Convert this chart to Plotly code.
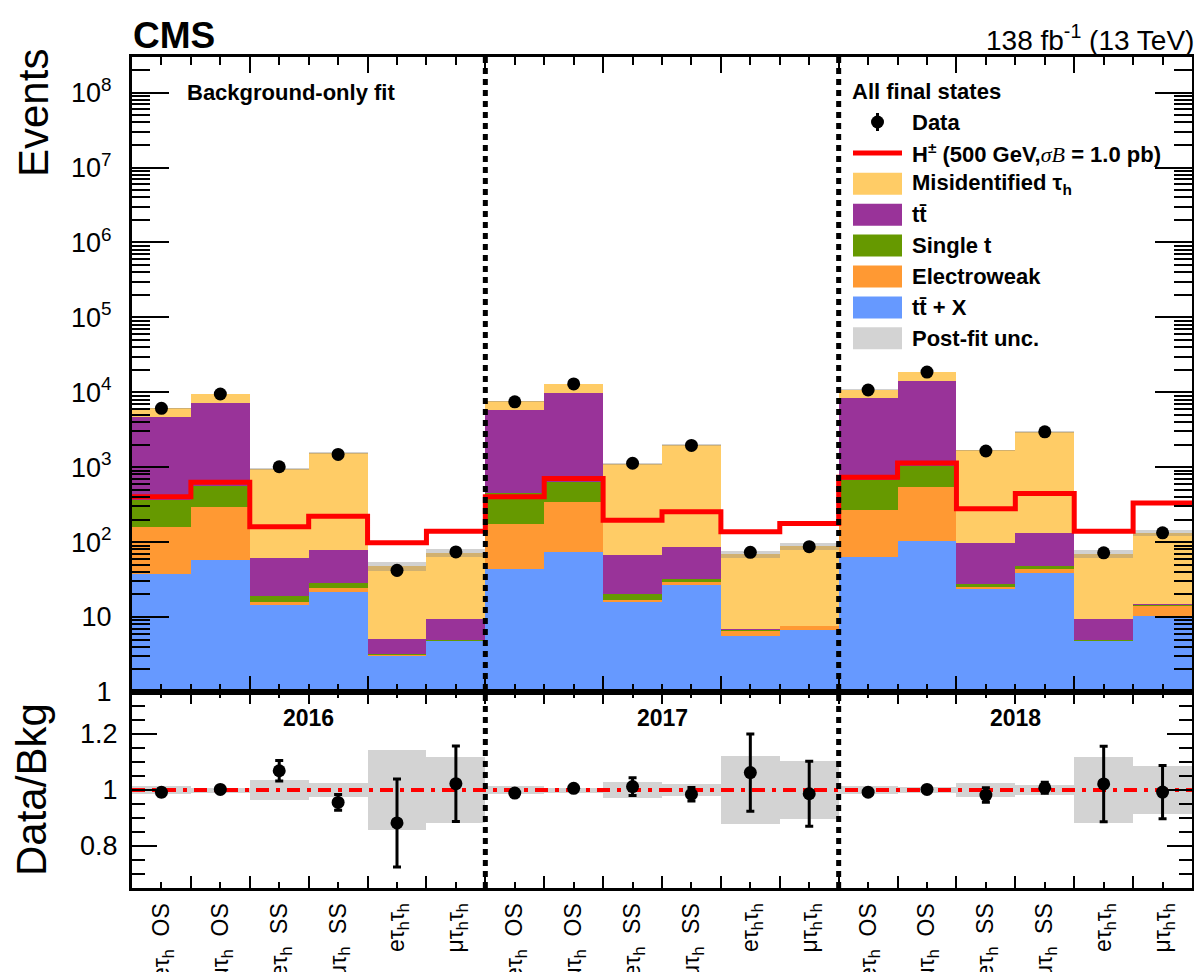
import numpy as np
import plotly.graph_objects as go

# ---------------------------------------------------------------- data
years = ["2016", "2017", "2018"]
GAP = "\u00a0\u00a0"
channels = [f"eτ<sub>h</sub>{GAP}OS", f"μτ<sub>h</sub>{GAP}OS",
            f"eτ<sub>h</sub>{GAP}SS", f"μτ<sub>h</sub>{GAP}SS",
            "eτ<sub>h</sub>τ<sub>h</sub>", "μτ<sub>h</sub>τ<sub>h</sub>"]
categories = channels * len(years)

# post-fit background yields per category (events)
ttx = [37.6, 57.4, 14.4, 21.7, 3.09, 4.8,
       44.2, 73.4, 16.1, 26.8, 5.6, 6.73,
       63.8, 105, 24.0, 39.2, 4.8, 10.35]
electroweak = [121, 234.6, 1.5, 3.0, 0.05, 0.08,
               131.3, 267.6, 0.8, 2.6, 0.93, 0.87,
               200.8, 435, 1.5, 4.2, 0.05, 3.75]
single_t = [205, 277, 3.2, 3.5, 0.03, 0.05,
            279.5, 302, 3.1, 2.5, 0.34, 0.04,
            404.4, 487, 2.5, 4.7, 0.03, 0.75]
ttbar = [4306, 6621, 42.7, 51.5, 1.99, 4.45,
         5396, 9007, 46.6, 55.1, 0.05, 0.05,
         7705, 13263, 68.3, 85.5, 4.5, 0.05]
misid_tau = [1485, 2280, 887, 1471, 42.44, 63.0,
             1699, 3200, 1049, 1894, 61.8, 80.5,
             2431, 4280, 1580, 2811, 61.1, 119.1]

# relative post-fit uncertainty of the total background
postfit_unc = [0.014, 0.009, 0.034, 0.025, 0.143, 0.118,
               0.013, 0.009, 0.030, 0.023, 0.120, 0.105,
               0.013, 0.010, 0.025, 0.019, 0.118, 0.087]

# observed events and statistical uncertainty of Data/Bkg
data = [6105, 9489, 1014, 1482, 42, 74,
        7467, 12927, 1129, 1951, 73, 87,
        10719, 18607, 1646, 2968, 72, 133]
ratio_err = [0.013, 0.0105, 0.037, 0.028, 0.157, 0.135,
             0.0115, 0.009, 0.032, 0.024, 0.138, 0.116,
             0.0095, 0.0075, 0.026, 0.020, 0.135, 0.095]

# H+ signal, m = 500 GeV, sigma*B = 1.0 pb
signal = [402, 629, 161, 221, 98, 140,
          402, 704, 196, 254, 137.5, 177,
          733, 1137, 278, 445, 140, 334]

# ---------------------------------------------------------------- style
FONT = "Liberation Sans, Arial, Helvetica, sans-serif"
stack = [  # bottom to top
    ("tt̄ + X", ttx, "#6699ff"),
    ("Electroweak", electroweak, "#ff9933"),
    ("Single t", single_t, "#669900"),
    ("tt̄", ttbar, "#993399"),
    ("Misidentified τ<sub>h</sub>", misid_tau, "#ffcc66"),
]
UNC_MAIN = "rgba(128,128,128,0.36)"
UNC_RATIO = "#d3d3d3"

n_bins = len(categories)
per_year = len(channels)
centers = np.arange(n_bins) + 0.5
edges = np.arange(n_bins + 1)

comp = [np.array(v, dtype=float) for _, v, _ in stack]
total = np.sum(comp, axis=0)
unc = np.array(postfit_unc)
data_arr = np.array(data, dtype=float)
ratio = data_arr / total
rerr = np.array(ratio_err)

fig = go.Figure()

# stacked backgrounds
below = np.zeros(n_bins)
for (name, vals, col), v in zip(stack, comp):
    fig.add_trace(go.Bar(
        x=centers, y=v, base=below.copy() if below.any() else None,
        width=1.0, marker=dict(color=col, line=dict(width=0)),
        xaxis="x", yaxis="y", showlegend=False, name=name))
    below = below + v

# post-fit uncertainty on the total background
fig.add_trace(go.Bar(
    x=centers, y=2 * unc * total, base=total * (1 - unc), width=1.0,
    marker=dict(color=UNC_MAIN, line=dict(width=0)),
    xaxis="x", yaxis="y", showlegend=False))

# signal step line
fig.add_trace(go.Scatter(
    x=edges, y=list(signal) + [signal[-1]], mode="lines",
    line=dict(color="#ff0000", width=5, shape="hv"),
    xaxis="x", yaxis="y", showlegend=False))

# observed data
fig.add_trace(go.Scatter(
    x=centers, y=data_arr, mode="markers",
    marker=dict(color="black", size=13),
    error_y=dict(type="data", array=rerr * total, color="black",
                 thickness=3, width=0),
    xaxis="x", yaxis="y", showlegend=False))

# ratio panel: uncertainty band, unity line, data/bkg
fig.add_trace(go.Bar(
    x=centers, y=2 * unc, base=1 - unc, width=1.0,
    marker=dict(color=UNC_RATIO, line=dict(width=0)),
    xaxis="x2", yaxis="y2", showlegend=False))
fig.add_trace(go.Scatter(
    x=[edges[0], edges[-1]], y=[1, 1], mode="lines",
    line=dict(color="#ff0000", width=4, dash="13px,7px,4px,7px"),
    xaxis="x2", yaxis="y2", showlegend=False))
fig.add_trace(go.Scatter(
    x=centers, y=ratio, mode="markers",
    marker=dict(color="black", size=13),
    error_y=dict(type="data", array=rerr, color="black",
                 thickness=3, width=4),
    xaxis="x2", yaxis="y2", showlegend=False))

# ---------------------------------------------------------------- axes
SPLIT = 0.2359
decades = [10.0 ** k for k in range(0, 9)]
dec_text = ["1", "10"] + [f"10<sup>{k}</sup>" for k in range(2, 9)]
log_minor = [m * 10.0 ** k for k in range(0, 9) for m in range(2, 10)]

axis_common = dict(showline=True, linewidth=3, linecolor="black",
                   mirror="ticks", showgrid=False, zeroline=False,
                   ticks="inside", tickwidth=2, tickcolor="black",
                   automargin=False)

fig.update_layout(
    width=1194, height=972,
    margin=dict(l=132, r=2, t=57, b=84, autoexpand=False),
    paper_bgcolor="white", plot_bgcolor="white",
    barmode="overlay", bargap=0,
    font=dict(family=FONT, color="black"),
    xaxis=dict(domain=[0, 1], anchor="y", range=[0, n_bins],
               tickmode="array", tickvals=list(edges[::2]), ticklen=16,
               showticklabels=False,
               minor=dict(tickmode="array",
                          tickvals=list(centers) + list(edges[1::2]),
                          ticks="inside", ticklen=8, tickwidth=2,
                          tickcolor="black"),
               **axis_common),
    yaxis=dict(domain=[SPLIT, 1], anchor="x", type="log", range=[0, 8.475],
               tickmode="array", tickvals=decades, ticktext=dec_text,
               ticklen=37, tickfont=dict(size=27, family=FONT),
               ticklabelstandoff=12,
               minor=dict(tickmode="array", tickvals=log_minor,
                          ticks="inside", ticklen=18, tickwidth=2,
                          tickcolor="black"),
               **axis_common),
    xaxis2=dict(domain=[0, 1], anchor="y2", matches="x", range=[0, n_bins],
                tickmode="array", tickvals=list(centers), ticktext=categories,
                tickangle=-90, tickfont=dict(size=23, family=FONT),
                ticklen=6, ticklabelstandoff=3,
                minor=dict(tickmode="array", tickvals=list(edges),
                           ticks="inside", ticklen=12, tickwidth=2,
                           tickcolor="black"),
                **axis_common),
    yaxis2=dict(domain=[0, SPLIT], anchor="x2", range=[0.65, 1.35],
                tickmode="array", tickvals=[0.8, 1.0, 1.2],
                ticktext=["0.8", "1", "1.2"], ticklen=25,
                tickfont=dict(size=27, family=FONT), ticklabelstandoff=6,
                minor=dict(tickmode="linear", tick0=0.65, dtick=0.05,
                           ticks="inside", ticklen=13, tickwidth=2,
                           tickcolor="black"),
                **axis_common),
)

# year separators across both panels
for k in range(1, len(years)):
    fig.add_shape(type="line", xref="x", yref="paper",
                  x0=k * per_year, x1=k * per_year, y0=0, y1=1,
                  line=dict(color="black", width=5, dash="6px,5px"),
                  layer="above")

# ---------------------------------------------------------------- text
PLOT_L, PLOT_W, PLOT_B, PLOT_H = 132, 1060, 888, 831


def px(xp):
    return (xp - PLOT_L) / PLOT_W


def py(yp):
    return (PLOT_B - yp) / PLOT_H


def label(text, x, y, size, xanchor="left", **kw):
    fig.add_annotation(text=text, x=x, y=y, xref="paper", yref="paper",
                       xanchor=xanchor, yanchor="middle", showarrow=False,
                       font=dict(family=FONT, size=size, color="black"), **kw)


label("<b>CMS</b>", px(131), py(35), 37)
label("138 fb<sup>-1</sup> (13 TeV)", px(1196), py(38), 28, xanchor="right")
label("<b>Background-only fit</b>", px(185), py(93), 22)
label("<b>All final states</b>", px(850), py(91), 22)
label("Events", px(33), py(113), 42, xanchor="center", textangle=-90)
label("Data/Bkg", px(31), py(790), 42, xanchor="center", textangle=-90)

for i, yr in enumerate(years):
    fig.add_annotation(text=f"<b>{yr}</b>", x=(i + 0.5) * per_year, xref="x",
                       y=py(718), yref="paper", xanchor="center",
                       yanchor="middle", showarrow=False,
                       font=dict(family=FONT, size=23, color="black"))

# ---------------------------------------------------------------- legend
ROW0, ROW_DY = 122, 30.9
SW_L, SW_R, TXT_X = 853, 902, 910
legend_rows = [
    ("Data", "data", None),
    ("H<sup>±</sup> (500 GeV,<span style=\"font-family:'Liberation Serif';"
     "font-weight:normal\"><i>σB</i></span> = 1.0 pb)", "line", "#ff0000"),
] + [(name, "box", col) for name, _, col in stack[::-1]] + [
    ("Post-fit unc.", "box", UNC_RATIO)]

for i, (name, kind, col) in enumerate(legend_rows):
    yc = ROW0 + i * ROW_DY
    xc = (SW_L + SW_R) / 2
    if kind == "box":
        fig.add_shape(type="rect", xref="paper", yref="paper",
                      x0=px(SW_L), x1=px(SW_R), y0=py(yc + 11), y1=py(yc - 11),
                      fillcolor=col, line=dict(width=0), layer="above")
    elif kind == "line":
        fig.add_shape(type="line", xref="paper", yref="paper",
                      x0=px(SW_L), x1=px(SW_R), y0=py(yc), y1=py(yc),
                      line=dict(color=col, width=5), layer="above")
    else:
        fig.add_shape(type="line", xref="paper", yref="paper",
                      x0=px(xc), x1=px(xc), y0=py(yc + 9), y1=py(yc - 9),
                      line=dict(color="black", width=3), layer="above")
        fig.add_shape(type="circle", xref="paper", yref="paper",
                      x0=px(xc - 6.5), x1=px(xc + 6.5),
                      y0=py(yc + 6.5), y1=py(yc - 6.5),
                      fillcolor="black", line=dict(width=0), layer="above")
    label(f"<b>{name}</b>", px(TXT_X), py(yc), 22)

fig.write_html("out.html")
